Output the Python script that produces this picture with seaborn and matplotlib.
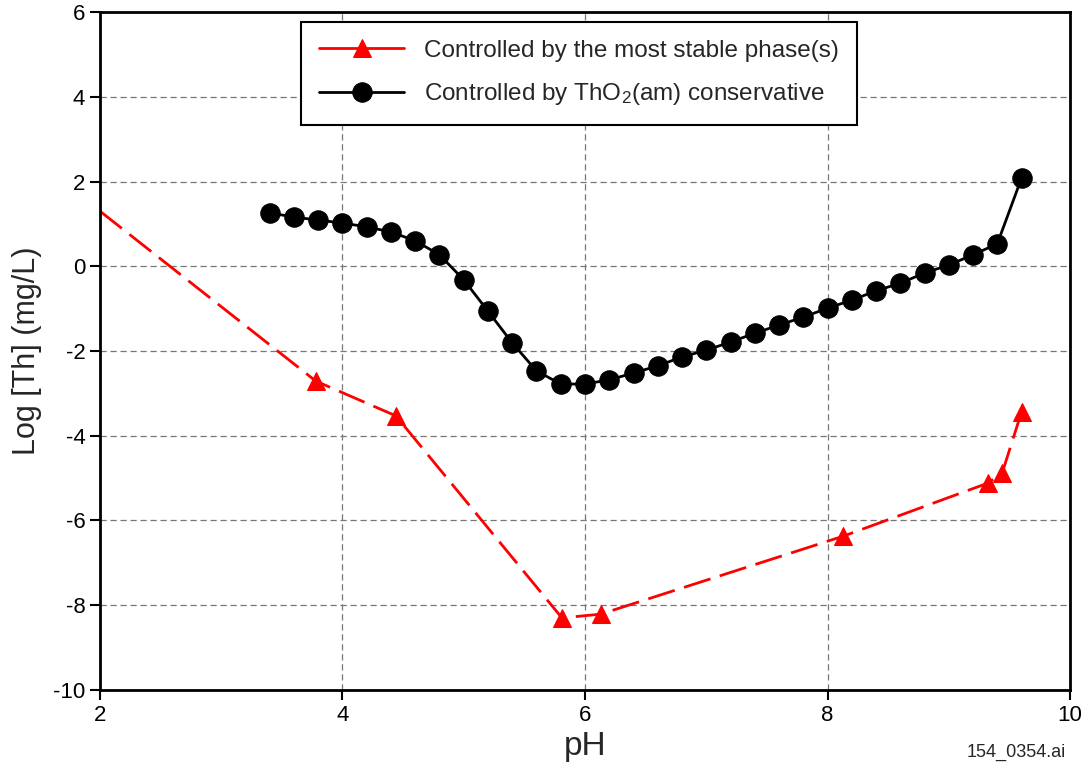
import numpy as np
import pandas as pd
import matplotlib
matplotlib.use("Agg")
import matplotlib.pyplot as plt
import seaborn as sns

# Data
ph_amorphous = [3.4, 3.6, 3.8, 4.0, 4.2, 4.4, 4.6, 4.8, 5.0, 5.2, 5.4, 5.6, 5.8, 6.0, 6.2, 6.4,
                6.6, 6.8, 7.0, 7.2, 7.4, 7.6, 7.8, 8.0, 8.2, 8.4, 8.6, 8.8, 9.0, 9.2, 9.4, 9.6]
log_th_amorphous = [1.26, 1.16, 1.09, 1.02, 0.93, 0.81, 0.60, 0.27, -0.32, -1.06, -1.81, -2.47,
                    -2.78, -2.78, -2.68, -2.52, -2.35, -2.14, -1.98, -1.79, -1.58, -1.39, -1.20,
                    -0.99, -0.80, -0.58, -0.40, -0.16, 0.03, 0.27, 0.53, 2.08]

ph_stable = [2.0, 3.78, 4.44, 5.81, 6.13, 8.13, 9.32, 9.44, 9.60]
log_th_stable = [1.30, -2.71, -3.53, -8.30, -8.21, -6.37, -5.12, -4.88, -3.44]

label_stable = "Controlled by the most stable phase(s)"
label_amorphous = "Controlled by ThO$_2$(am) conservative"

x_ticks = [2, 4, 6, 8, 10]
y_ticks = [-10, -8, -6, -4, -2, 0, 2, 4, 6]

sns.set_style("white")
plt.rcParams['font.family'] = ['Liberation Sans', 'DejaVu Sans']
plt.rcParams['mathtext.default'] = 'regular'
plt.rcParams['axes.unicode_minus'] = False

df_am = pd.DataFrame({'pH': ph_amorphous, 'logTh': log_th_amorphous})
df_st = pd.DataFrame({'pH': ph_stable, 'logTh': log_th_stable})

fig = plt.figure(figsize=(10.9, 7.75), dpi=100)
ax = fig.add_axes([0.0917, 0.1097, 0.89, 0.8748])

# red: first point sits on the left edge without a marker
sns.lineplot(data=df_st, x='pH', y='logTh', ax=ax, sort=False, color='red', lw=2,
             marker='^', markersize=13, markeredgecolor='red',
             markevery=list(range(1, len(ph_stable))), label=label_stable)
ax.lines[-1].set_dashes((10, 3.5))

sns.lineplot(data=df_am, x='pH', y='logTh', ax=ax, sort=False, color='black', lw=2,
             marker='o', markersize=14, markeredgecolor='black',
             label=label_amorphous, clip_on=False)

ax.set_xlim(2, 10)
ax.set_ylim(-10, 6)
ax.set_xticks(x_ticks)
ax.set_yticks(y_ticks)
ax.grid(True, color='#777777', linestyle=(0, (5, 3)), linewidth=0.9)
ax.set_axisbelow(True)

for s in ax.spines.values():
    s.set_visible(True)
    s.set_color('black')
    s.set_linewidth(2)

ax.tick_params(axis='both', direction='out', length=7, width=1.5, colors='black',
               labelsize=16, bottom=True, left=True)
ax.set_xlabel('pH', fontsize=24, labelpad=4)
ax.set_ylabel('Log [Th] (mg/L)', fontsize=22, labelpad=8)

leg = ax.legend(loc='upper left', bbox_to_anchor=(0.207, 0.986), fontsize=17.5,
                frameon=True, fancybox=False, edgecolor='black', framealpha=1,
                handlelength=3.5, borderpad=0.75, labelspacing=0.8, handletextpad=0.8,
                borderaxespad=0)
leg.get_frame().set_linewidth(1.5)
for ln in leg.get_lines():
    ln.set_linestyle('-')

fig.text(0.932, 0.029, '154_0354.ai', fontsize=13, ha='center', va='center')

fig.savefig('out.png', dpi=100)
